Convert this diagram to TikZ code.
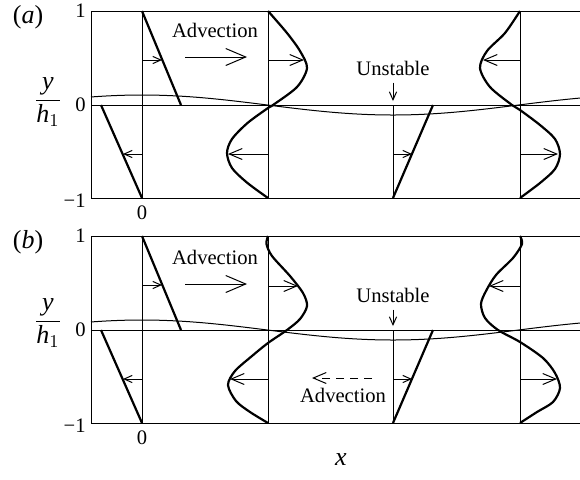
\documentclass[tikz,border=0pt]{standalone}
\usepackage{fontspec}
\setmainfont{Liberation Serif}
\usetikzlibrary{arrows.meta}
\tikzset{
  frameline/.style={line width=0.5pt},
  profile/.style={line width=1.1pt},
  parrow/.style={line width=0.5pt,-{Straight Barb[length=4pt,width=3.6pt]}},
  sarrow/.style={line width=0.5pt,-{Straight Barb[length=6.5pt,width=5.5pt]}},
  advarrow/.style={line width=0.5pt,-{Straight Barb[length=10pt,width=8.5pt]}},
  txt/.style={font=\fontsize{10.3}{12}\selectfont,inner sep=0pt},
  bigtxt/.style={font=\fontsize{13}{15}\selectfont,inner sep=0pt},
}

\begin{document}
\begin{tikzpicture}[x=0.5pt,y=-0.5pt]
\useasboundingbox (0,0) rectangle (580,479);

% ---- panel (a) ----
\begin{scope}[shift={(0,11)}]
\draw[frameline] (580,0) -- (91,0) -- (91,187) -- (580,187);
\draw[frameline] (91,94) -- (580,94);
\draw[frameline] plot[domain=91:580,samples=100] (\x,{94-10*cos(0.71713*(\x-142))});
\draw[frameline] (142,0) -- (142,187);
\draw[frameline] (268,0) -- (268,187);
\draw[frameline] (393,94) -- (393,187);
\draw[frameline] (520,0) -- (520,187);
% velocity profiles
\draw[profile] (142,0) -- (181,94);
\draw[profile] (101,94) -- (142,187);
\draw[profile] (393,187) -- (433,94);
\draw[profile] plot[smooth] coordinates {(268,0) (287,22) (300,40) (307,57) (297,76) (273,94)
  (268,97) (247.5,112) (232,128) (227,142) (232,157) (247.5,172) (268,187)};
\draw[profile] plot[smooth] coordinates {(520,0) (505,22) (487,40) (480,57) (490,76) (512,94)
  (520,99) (540,114) (555,128) (560,143) (555,158) (540,172) (520,187)};
\draw[parrow] (142,49) -- (162,49);
\draw[parrow] (142,143) -- (123,143);
\draw[parrow] (393,143) -- (412,143);
\draw[sarrow] (268,49) -- (304,49);
\draw[sarrow] (268,143) -- (228,143);
\draw[sarrow] (520,49) -- (483,49);
\draw[sarrow] (520,143) -- (558,143);
% labels
\node[bigtxt] (labA) at (28,6) {(\textit{a})};
\node[bigtxt] (yhA) at (48,91) {$\displaystyle\frac{\textit{y}}{\textit{h}_1}$};
\node[txt,anchor=east] (oneA) at (86,0) {1};
\node[txt,anchor=east] (zeroA) at (86,94) {0};
\node[txt,anchor=east] (moneA) at (86,190) {−1};
\node[txt] (xzeroA) at (142,202) {0};
\node[txt] (advA) at (215,19) {Advection};
\draw[advarrow] (185,46) -- (247,46);
\node[txt] (unsA) at (393,57) {Unstable};
\coordinate (tipA) at (393,90);
\draw[parrow] ([yshift=-3.5pt]unsA.south) -- (tipA);
\end{scope}

% ---- panel (b) ----
\begin{scope}[shift={(0,236)}]
\draw[frameline] (580,0) -- (91,0) -- (91,187) -- (580,187);
\draw[frameline] (91,94) -- (580,94);
\draw[frameline] plot[domain=91:580,samples=100] (\x,{94-10*cos(0.71713*(\x-142))});
\draw[frameline] (142,0) -- (142,187);
\draw[frameline] (268,0) -- (268,187);
\draw[frameline] (393,94) -- (393,187);
\draw[frameline] (520,0) -- (520,187);
% velocity profiles
\draw[profile] (142,0) -- (181,94);
\draw[profile] (101,94) -- (142,187);
\draw[profile] (393,187) -- (433,94);
\draw[profile] plot[smooth] coordinates {(268,0) (266.5,8) (272,20) (290,40) (303,57) (307,70)
  (300,83) (287,94) (268,107) (252,120) (235,135) (228,149) (236,165) (250,176) (268,187)};
\draw[profile] plot[smooth] coordinates {(520,0) (522,8) (513,22) (496,39) (486,55) (481,68)
  (485,82) (498,94) (520,106) (543,122) (555,137) (560,152) (553,166) (537,176) (520,187)};
\draw[parrow] (142,49) -- (162,49);
\draw[parrow] (142,143) -- (123,143);
\draw[parrow] (393,143) -- (412,143);
\draw[sarrow] (268,50) -- (298,50);
\draw[sarrow] (268,143) -- (230,143);
\draw[sarrow] (520,50) -- (489,50);
\draw[sarrow] (520,143) -- (557,143);
% labels
\node[bigtxt] (labB) at (28,6) {(\textit{b})};
\node[bigtxt] (yhB) at (48,87) {$\displaystyle\frac{\textit{y}}{\textit{h}_1}$};
\node[txt,anchor=east] (oneB) at (86,0) {1};
\node[txt,anchor=east] (zeroB) at (86,94) {0};
\node[txt,anchor=east] (moneB) at (86,190) {−1};
\node[txt] (xzeroB) at (142,202) {0};
\node[txt] (advB) at (215,21) {Advection};
\draw[advarrow] (185,48) -- (247,48);
\node[txt] (unsB) at (393,59) {Unstable};
\coordinate (tipB) at (393,90);
\draw[parrow] ([yshift=-3.5pt]unsB.south) -- (tipB);
\node[txt] (advBack) at (343,159) {Advection};
\coordinate (dashB) at (372,142);
\draw[sarrow,dash pattern=on 4pt off 3pt] (dashB) -- (312,142);
\end{scope}

\node[bigtxt] (xlab) at (341,460) {\textit{x}};
\end{tikzpicture}
\end{document}
